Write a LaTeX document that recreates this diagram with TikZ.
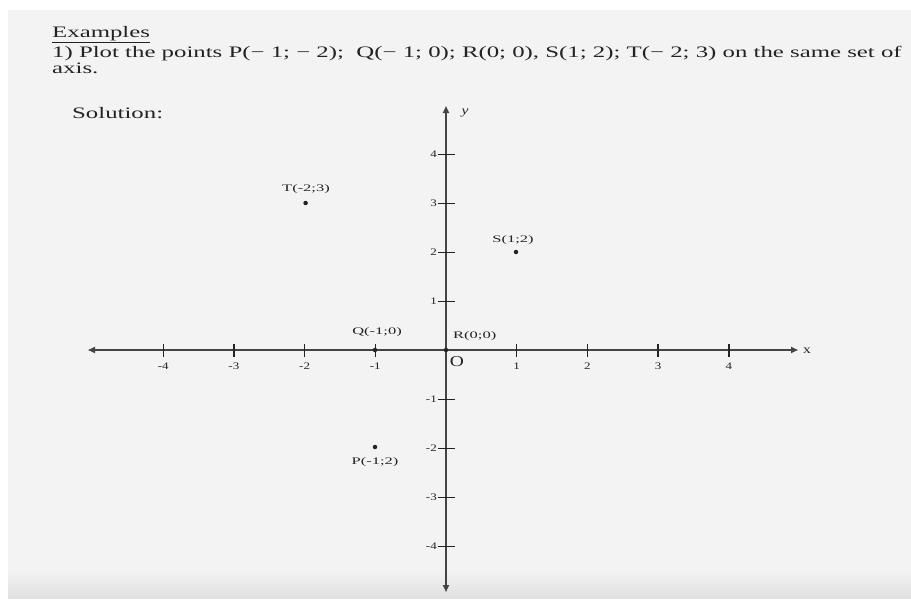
\documentclass[tikz,border=0pt]{standalone}
\usepackage{fontspec}
\usepackage{graphicx}
\setmainfont{Liberation Serif}
\usetikzlibrary{arrows.meta}
\definecolor{bgpaper}{RGB}{244,243,244}
\definecolor{ink}{RGB}{35,35,35}
\newcommand{\wideA}[1]{\scalebox{1.55}[1]{#1}}
\newcommand{\wideB}[1]{\scalebox{1.65}[1]{#1}}
\newcommand{\wideC}[1]{\scalebox{1.3}[1]{#1}}
\begin{document}
\begin{tikzpicture}[x=1pt,y=-1pt,
  axisline/.style={line width=1.7pt, draw=ink!85, -{Triangle[length=7pt,width=6pt]}},
  tickx/.style={line width=1.4pt, draw=ink},
  ticky/.style={line width=0.9pt, draw=ink},
  ticklabel/.style={font=\fontsize{10}{12}\selectfont, text=ink, inner sep=1pt},
  ptlabel/.style={font=\fontsize{10}{12}\selectfont, text=ink, inner sep=1pt},
  dot/.style={circle, fill=ink, inner sep=0pt, minimum size=4.5pt},
  header/.style={font=\fontsize{16}{18}\selectfont, text=ink, anchor=base west, inner sep=0pt}]
\useasboundingbox (0,0) rectangle (911,600);
\fill[white] (0,0) rectangle (911,600);
\fill[bgpaper] (8,10) rectangle (911,598);
\shade[top color=bgpaper, bottom color=black!12] (8,570) rectangle (911,598);
% header texts
\node[header] (ex) at (52,37) {\wideA{\underline{Examples}}};
\node[header] (l1) at (52,57.5) {\wideA{1) Plot the points P(− 1; − 2);\ \ Q(− 1; 0); R(0; 0), S(1; 2); T(− 2; 3) on the same set of}};
\node[header] (l2) at (52,73.5) {\wideA{axis.}};
\node[header] (sol) at (72,118) {\wideA{Solution:}};
% axes
\coordinate (O) at (446,350);
\coordinate (xl) at (88,350);
\coordinate (xr) at (798,350);
\coordinate (yt) at (446,106);
\coordinate (yb) at (446,592);
\draw[axisline] (O) -- (xr);
\draw[axisline] (O) -- (xl);
\draw[axisline] (O) -- (yt);
\draw[axisline] (O) -- (yb);
\node[font=\fontsize{12}{14}\selectfont, text=ink] (xlab) at (807,351) {\wideC{x}};
\node[font=\fontsize{12}{14}\selectfont\itshape, text=ink] (ylab) at (465,113) {\wideC{y}};
% x ticks
\foreach \k/\lab in {-4/-4,-3/-3,-2/-2,-1/-1,1/1,2/2,3/3,4/4}{
  \draw[tickx] ({446+70.7*\k},344) -- ({446+70.7*\k},357);
  \node[ticklabel] (tx\k) at ({446+70.7*\k},366) {\wideC{\lab}};
}
% y ticks
\foreach \k/\lab in {-4/-4,-3/-3,-2/-2,-1/-1,1/1,2/2,3/3,4/4}{
  \draw[ticky] (438,{350-49*\k}) -- (455,{350-49*\k});
  \node[ticklabel, anchor=east] (ty\k) at (438,{350-49*\k}) {\wideC{\lab}};
}
% origin label
\node[font=\fontsize{15}{17}\selectfont, text=ink] (olab) at (457,362) {\wideC{O}};
% points
\node[dot] (T) at (305.6,203) {};
\node[ptlabel] (Tl) at (306,189) {\wideB{T(-2;3)}};
\node[dot] (S) at (516,252) {};
\node[ptlabel] (Sl) at (513,240) {\wideB{S(1;2)}};
\node[dot] (Q) at (375,350) {};
\node[ptlabel] (Ql) at (377,332) {\wideB{Q(-1;0)}};
\node[dot] (R) at (446,350) {};
\node[ptlabel, anchor=west] (Rl) at (452,336) {\wideB{R(0;0)}};
\node[dot] (P) at (375,447) {};
\node[ptlabel] (Pl) at (375,462) {\wideB{P(-1;2)}};
\end{tikzpicture}
\end{document}
